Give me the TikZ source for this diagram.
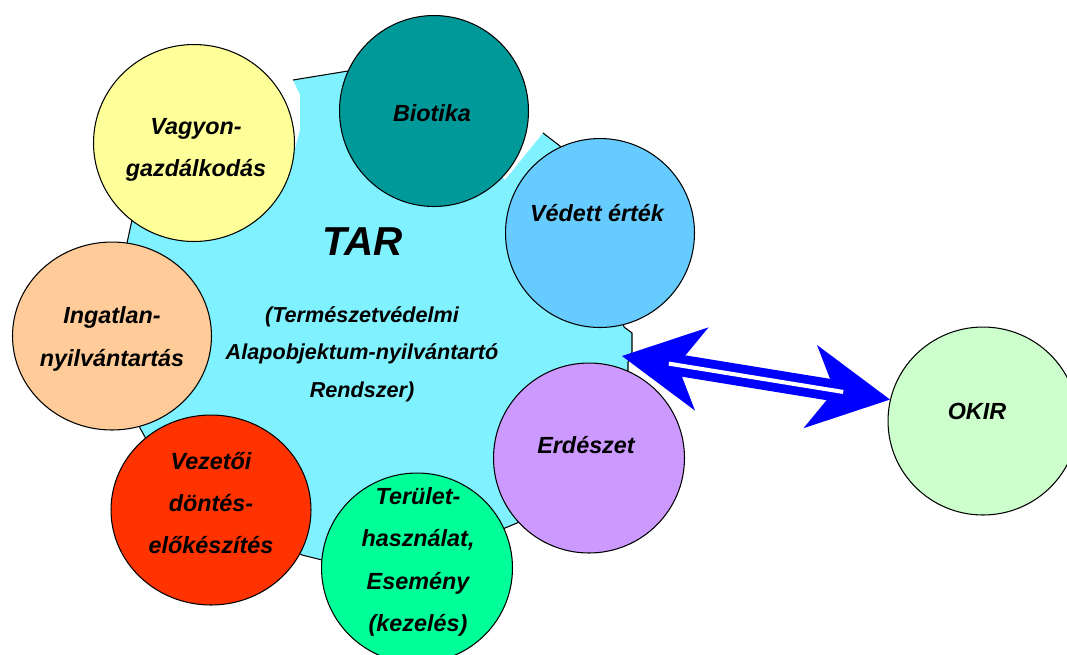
\documentclass[tikz,border=0pt]{standalone}
\usepackage{fontspec}
\setmainfont{Liberation Sans}
\usetikzlibrary{arrows.meta,shapes.geometric}
\definecolor{tarszin}{HTML}{80F2FF}
\definecolor{vagyonszin}{HTML}{FFFF99}
\definecolor{biotikaszin}{HTML}{009999}
\definecolor{vedettszin}{HTML}{66CCFF}
\definecolor{ingatlanszin}{HTML}{FFCC99}
\definecolor{erdeszetszin}{HTML}{CC99FF}
\definecolor{vezetoiszin}{HTML}{FF3300}
\definecolor{teruletszin}{HTML}{00FF99}
\definecolor{okirszin}{HTML}{CCFFCC}
\tikzset{
  kor/.style={ellipse, draw=black, line width=0.6pt, inner sep=0pt},
  felirat/.style={font=\fontsize{13.3}{24}\selectfont\bfseries\itshape, align=center},
}
\begin{document}
\begin{tikzpicture}[x=0.02cm,y=-0.02cm]
\useasboundingbox (0,0) rectangle (1067,654);
% central area
\fill[tarszin] (293,80) -- (348,71) -- (434,113) -- (505,180) -- (543,133) -- (560,146)
  -- (600,233) -- (624,327) -- (632,333) -- (632,352) -- (628,362) -- (628,372)
  -- (589,458) -- (517,523) -- (505,528) -- (417,568) -- (322,560) -- (302,555)
  -- (211,510) -- (145,437) -- (140,428) -- (112,336) -- (127,243) -- (132,220)
  -- (194,143) -- (294,152) -- (300,130) -- (300,95) -- cycle;
\draw[line width=0.6pt] (293,80) -- (348,71) -- (434,113);
\draw[line width=0.6pt] (543,133) -- (560,146) -- (600,233) -- (624,327) -- (632,333)
  -- (632,352) -- (628,362) -- (628,372) -- (589,458) -- (517,523) -- (505,528)
  -- (417,568) -- (322,560) -- (302,555) -- (211,510) -- (145,437) -- (140,428)
  -- (112,336) -- (127,243) -- (132,220) -- (194,143);
% circles
\node[kor, fill=vagyonszin, minimum width=4.02cm, minimum height=3.94cm] (vagyon) at (194,143) {};
\node[kor, fill=biotikaszin, minimum width=3.78cm, minimum height=3.82cm] (biotika) at (434,111) {};
\node[kor, fill=vedettszin, minimum width=3.78cm, minimum height=3.78cm] (vedett) at (600,233) {};
\node[kor, fill=ingatlanszin, minimum width=3.98cm, minimum height=3.76cm] (ingatlan) at (112,336) {};
\node[kor, fill=erdeszetszin, minimum width=3.82cm, minimum height=3.8cm] (erdeszet) at (589,458) {};
\node[kor, fill=vezetoiszin, minimum width=4cm, minimum height=3.8cm] (vezetoi) at (211,510) {};
\node[kor, fill=teruletszin, minimum width=3.82cm, minimum height=3.8cm] (terulet) at (417,568) {};
\node[kor, fill=okirszin, minimum width=3.8cm, minimum height=3.76cm] (okir) at (983,421) {};
% texts
\node[felirat] (vagyonT) at (196,150) {Vagyon-\\gazdálkodás};
\node[felirat] (biotikaT) at (432,113) {Biotika};
\node[felirat] (vedettT) at (597,213) {Védett érték};
\node[felirat] (ingatlanT) at (112,339) {Ingatlan-\\nyilvántartás};
\node[felirat] (erdeszetT) at (586,445) {Erdészet};
\node[felirat] (vezetoiT) at (211,503) {Vezetői\\döntés-\\előkészítés};
\node[felirat] (teruletT) at (418,562) {Terület-\\használat,\\Esemény\\(kezelés)};
\node[felirat] (okirT) at (977,411) {OKIR};
\node[font=\fontsize{23}{28}\selectfont\bfseries\itshape] (tar) at (363,242) {TAR};
\node[font=\fontsize{12.3}{21.3}\selectfont\bfseries\itshape, align=center] (tarnev) at (362,354)
  {(Természetvédelmi\\Alapobjektum-nyilvántartó\\Rendszer)};
% connection
\coordinate (tarjobb) at (622,356);
\draw[blue, line width=12.3pt,
  {Stealth[length=46pt,width=48pt,inset=14pt,line width=0pt]}-{Stealth[length=46pt,width=48pt,inset=14pt,line width=0pt]}]
  (tarjobb) -- (okir.167);
\draw[white, line width=2.3pt, shorten <=27pt, shorten >=27pt] (tarjobb) -- (okir.167);
\end{tikzpicture}
\end{document}
